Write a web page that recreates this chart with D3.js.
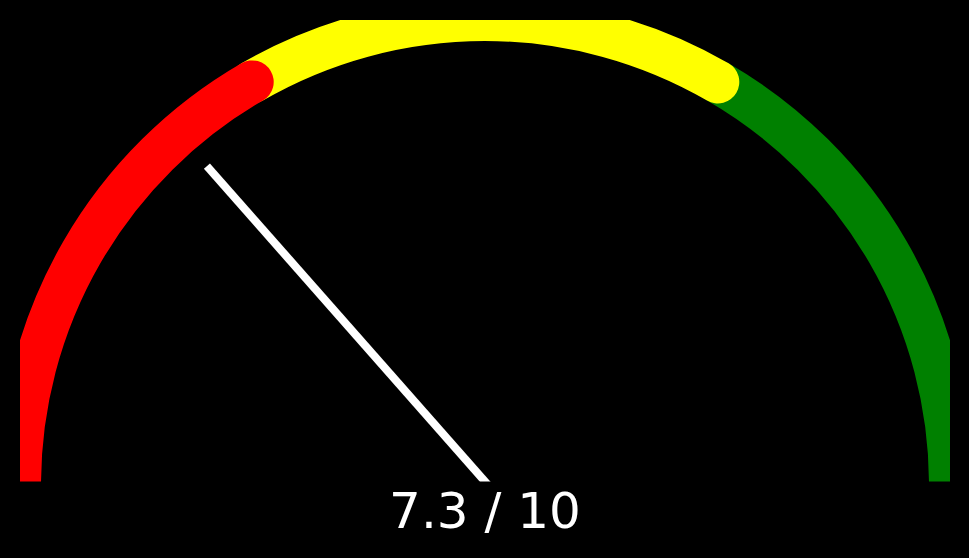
<!DOCTYPE html>
<html>
<head>
<meta charset="utf-8">
<script src="https://cdn.jsdelivr.net/npm/d3@7"></script>
<style>
  html, body { margin: 0; padding: 0; background: #000; }
  body { width: 969px; height: 558px; position: relative; overflow: hidden; }
  svg { position: absolute; left: 0; top: 0; }
</style>
</head>
<body>
<script>
// Data
const segmentStarts = [0, 3.333, 6.667];
const segmentEnds = [3.333, 6.667, 10];
const segmentColors = ["#ff0000", "#ffff00", "#008000"];
const gaugeValue = 7.3;
const gaugeMax = 10;
const labelText = gaugeValue + " / " + gaugeMax;

const W = 969, H = 558;
const cx = 485, cy = 485, r = 465.5, band = 43;
const needleX = 485, needleY = 481.5, needleLen = 420.5;

const svg = d3.select("body").append("svg").attr("width", W).attr("height", H);

svg.append("defs").append("clipPath").attr("id", "clip")
  .append("rect").attr("x", 20).attr("y", 20).attr("width", 930).attr("height", 461.5);

const g = svg.append("g").attr("clip-path", "url(#clip)");

// value -> svg angle, left (pi) to right (2pi), clockwise over the top
const angle = d3.scaleLinear().domain([0, gaugeMax]).range([Math.PI, 2 * Math.PI]);

const segs = segmentStarts.map((s, i) => ({ s, e: segmentEnds[i], c: segmentColors[i] }));

g.selectAll("path.seg")
  .data(segs.slice().reverse())
  .join("path")
  .attr("class", "seg")
  .attr("d", d => {
    const p = d3.path();
    const a0 = angle(d.s), a1 = angle(d.e);
    p.moveTo(cx + r * Math.cos(a0), cy + r * Math.sin(a0));
    p.arc(cx, cy, r, a0, a1, false);
    return p.toString();
  })
  .attr("fill", "none")
  .attr("stroke", d => d.c)
  .attr("stroke-width", band)
  .attr("stroke-linecap", "round");

// needle (math angle: value fraction of pi, counter-clockwise from +x)
const needleAngle = d3.scaleLinear().domain([0, gaugeMax]).range([0, Math.PI]);
const na = needleAngle(gaugeValue);
g.append("line")
  .attr("x1", needleX - 6 * Math.cos(na)).attr("y1", needleY + 6 * Math.sin(na))
  .attr("x2", needleX + needleLen * Math.cos(na))
  .attr("y2", needleY - needleLen * Math.sin(na))
  .attr("stroke", "#fff")
  .attr("stroke-width", 8);

svg.append("text")
  .attr("x", cx).attr("y", 528)
  .attr("text-anchor", "middle")
  .attr("fill", "#fff")
  .attr("font-family", "DejaVu Sans, sans-serif")
  .attr("font-size", 50)
  .text(labelText);
</script>
</body>
</html>
